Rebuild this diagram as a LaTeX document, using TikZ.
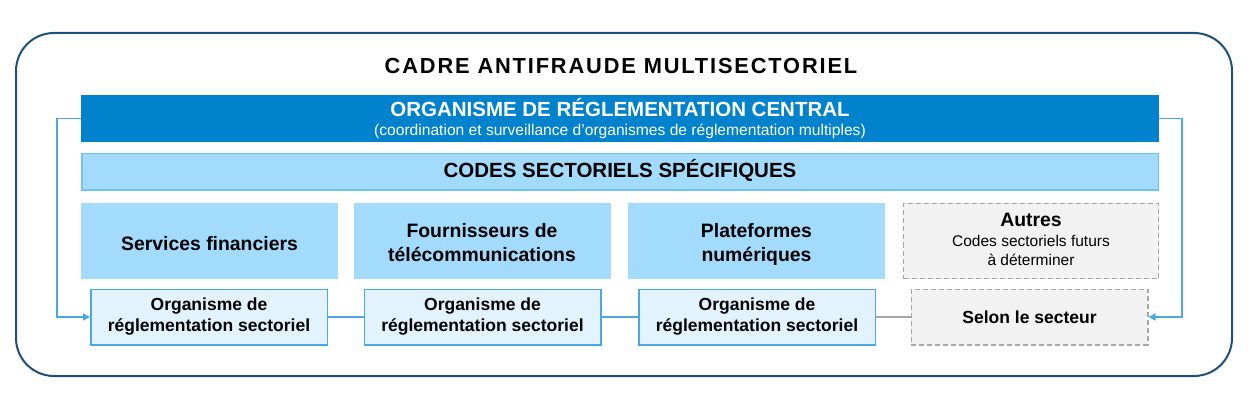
\documentclass[tikz,border=0pt]{standalone}
\usepackage{fontspec}
\setmainfont{Liberation Sans}
\usepackage{xcolor}
\usetikzlibrary{arrows.meta}

\definecolor{cadre}{HTML}{1D4F79}
\definecolor{central}{HTML}{0082CD}
\definecolor{codes}{HTML}{A2DBFD}
\definecolor{codesborder}{HTML}{6FC3F4}
\definecolor{regfill}{HTML}{E2F3FE}
\definecolor{regborder}{HTML}{4BA8E4}
\definecolor{autrefill}{HTML}{F2F2F2}
\definecolor{autreborder}{HTML}{A6A6A6}

\tikzset{
  sectorbox/.style={rectangle, fill=codes, minimum width=257pt, minimum height=76pt,
    inner sep=0pt, align=center, font=\bfseries\fontsize{19.4}{24}\selectfont},
  oneline/.style={text height=18pt, text depth=0pt},
  twoline/.style={text height=46pt, text depth=6pt},
  regbox/.style={rectangle, draw=regborder, line width=1.5pt, fill=regfill,
    minimum width=236.5pt, minimum height=55.5pt, inner sep=0pt, align=center,
    font=\bfseries\fontsize{17.5}{21}\selectfont},
  futurebox/.style={draw=autreborder, fill=autrefill, line width=1.5pt, dash pattern=on 5pt off 3pt},
  link/.style={line width=1.5pt, draw=regborder},
  feedback/.style={link, -{Triangle[length=7pt, width=7pt]}},
}

\begin{document}
\begin{tikzpicture}[x=1pt, y=-1pt]
  \def\rowsec{241}
  \def\rowreg{317}

  \useasboundingbox (0,0) rectangle (1255,414);
  \draw[cadre, line width=2pt, rounded corners=38pt] (16,33) rectangle (1232,376);

  \node[font=\bfseries\fontsize{21.8}{26}\selectfont\addfontfeature{LetterSpace=8.5}] (title)
    at (621,65.5) {CADRE ANTIFRAUDE MULTISECTORIEL};

  \node[fill=central, minimum width=1078pt, minimum height=47pt, inner sep=0pt, text=white,
    align=center, text height=38.4pt, text depth=4pt, font=\fontsize{15.6}{19}\selectfont]
    (central) at (620,118.5)
    {{\bfseries\fontsize{20.5}{19}\selectfont ORGANISME DE RÉGLEMENTATION CENTRAL}\\
     (coordination et surveillance d’organismes de réglementation multiples)};

  \node[fill=codes, draw=codesborder, line width=1.5pt, minimum width=1076.5pt,
    minimum height=36.5pt, inner sep=0pt, text depth=6.4pt,
    font=\bfseries\fontsize{20.5}{24}\selectfont] (codes)
    at (620,172) {CODES SECTORIELS SPÉCIFIQUES};

  % secteurs
  \node[sectorbox, oneline] (finance) at (209.5,\rowsec) {Services financiers};
  \node[sectorbox, twoline] (telecom) at (482,\rowsec) {Fournisseurs de\\télécommunications};
  \node[sectorbox, twoline] (platform) at (756.5,\rowsec) {Plateformes\\numériques};
  \node[sectorbox, futurebox, minimum width=255pt, minimum height=75pt,
    text height=49.4pt, text depth=0pt, font=\fontsize{15.5}{19}\selectfont] (others)
    at (1031,\rowsec)
    {{\bfseries\fontsize{19.4}{19}\selectfont Autres}\\[1pt]Codes sectoriels futurs\\à déterminer};

  % organismes sectoriels
  \node[regbox] (finreg) at (209,\rowreg) {Organisme de\\réglementation sectoriel};
  \node[regbox] (telreg) at (482.5,\rowreg) {Organisme de\\réglementation sectoriel};
  \node[regbox] (platreg) at (757,\rowreg) {Organisme de\\réglementation sectoriel};
  \node[regbox, futurebox] (otherreg) at (1029.5,\rowreg) {Selon le secteur};

  \draw[link] (finreg) -- (telreg);
  \draw[link] (telreg) -- (platreg);
  \draw[link, autreborder] (platreg) -- (otherreg);

  \coordinate (leftturn) at (57,118.5);
  \coordinate (rightturn) at (1182,118.5);
  \draw[feedback] (central.west) -- (leftturn) |- (finreg.west);
  \draw[feedback] (central.east) -- (rightturn) |- (otherreg.east);
\end{tikzpicture}
\end{document}
